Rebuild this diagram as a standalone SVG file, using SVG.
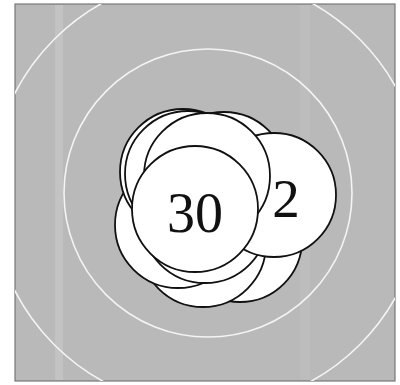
<svg xmlns="http://www.w3.org/2000/svg" width="400" height="385" viewBox="0 0 400 385">
<style>
.coin{fill:#fff;stroke:#111;stroke-width:1.8}
.ring{fill:none;stroke:#f4f4f4;stroke-width:1.6}
.lbl{font-family:"Liberation Serif","Times New Roman",serif;fill:#111}
</style>
<defs>
<clipPath id="sq"><rect x="15" y="4" width="380" height="377"/></clipPath>
</defs>
<rect width="400" height="385" fill="#fff"/>
<g id="background">
<rect x="15" y="4" width="380" height="377" fill="#b9b9b9" stroke="#777" stroke-width="1.2"/>
<rect x="55" y="5" width="8" height="375" fill="#c8c8c8" opacity="0.7"/>
<rect x="300" y="5" width="10" height="375" fill="#c2c2c2" opacity="0.5"/>
<g clip-path="url(#sq)">
<circle class="ring" cx="208" cy="193" r="144"/>
<circle class="ring" cx="207" cy="192" r="216"/>
</g>
</g>
<g id="nodes">
<circle id="n-low3" class="coin" cx="240" cy="240" r="62"/>
<circle id="n-low2" class="coin" cx="203" cy="244" r="63"/>
<circle id="n-low1" class="coin" cx="178" cy="225" r="63"/>
<circle id="n-low0" class="coin" cx="205" cy="220" r="63"/>
<circle id="n-back" class="coin" cx="224" cy="175" r="63"/>
<g id="n-2">
<circle class="coin" cx="274" cy="195" r="62"/>
<text class="lbl" x="286" y="217" font-size="55" text-anchor="middle">2</text>
</g>
<circle id="n-up1" class="coin" cx="183" cy="172" r="63"/>
<circle id="n-up1b" class="coin" cx="188" cy="174" r="63"/>
<circle id="n-up2" class="coin" cx="207" cy="176" r="63"/>
<g id="n-30">
<circle class="coin" cx="195" cy="209" r="63"/>
<text class="lbl" x="195" y="232" font-size="56" text-anchor="middle">30</text>
</g>
</g>
<g id="connectors"/>
</svg>
